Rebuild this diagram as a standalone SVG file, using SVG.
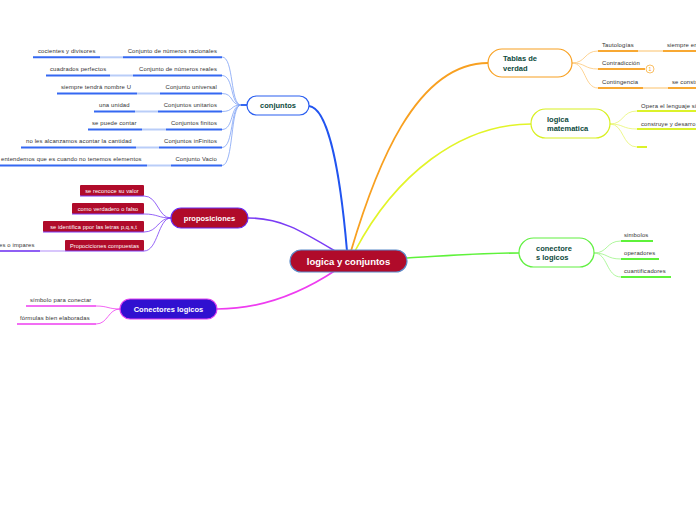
<svg xmlns="http://www.w3.org/2000/svg" width="696" height="520" viewBox="0 0 696 520">
<style>
text{font-family:"Liberation Sans",Arial,sans-serif}
.lbl{font-size:5.9px;fill:#333;letter-spacing:0.15px}
.nt{font-size:7.5px;font-weight:bold;fill:#0d4a3c}
.wt{font-weight:bold;fill:#fff}
.pt{font-size:5.6px;fill:#fff;letter-spacing:0.1px}
.c{fill:none}
.bl{stroke:#3568f2;stroke-width:2}
.bll{stroke:#b9cdf8;stroke-width:2}
.blc{stroke:#7fa2f5;stroke-width:0.8}
.pu{stroke:#7a3cf5}
.mg{stroke:#ee3cf0}
.or{stroke:#f8a832;stroke-width:2}
.orl{stroke:#fde0b4;stroke-width:2}
.ye{stroke:#dcf22a;stroke-width:2}
.gr{stroke:#5ef23a;stroke-width:2}
</style>
<rect width="696" height="520" fill="#fff"/>
<g id="connectors">
<path class="c" d="M309,106 C328,108 340,170 347,251" stroke="#2154f0" stroke-width="2"/>
<path class="c" d="M335,251 C300,230 280,218 248,218" stroke="#7a3cf5" stroke-width="1.6"/>
<path class="c" d="M336,270 C300,294 260,309 217,309" stroke="#ee3cf0" stroke-width="1.6"/>
<path class="c" d="M351,251 C375,170 415,63 488,63" stroke="#f8a020" stroke-width="1.8"/>
<path class="c" d="M355,251 C395,175 460,124 531,124" stroke="#e2f428" stroke-width="1.6"/>
<path class="c" d="M407,258 C440,256 480,253 519,253" stroke="#5ef23a" stroke-width="1.6"/>
<line x1="241" y1="105" x2="247" y2="105" stroke="#3568f2" stroke-width="2"/>
<path class="c blc" d="M241,105 C230,105 234,57 222,57"/>
<path class="c blc" d="M241,105 C230,105 234,75.5 222,75.5"/>
<path class="c blc" d="M241,105 C230,105 234,93.5 222,93.5"/>
<path class="c blc" d="M241,105 C230,105 234,111.5 222,111.5"/>
<path class="c blc" d="M241,105 C230,105 234,129.5 222,129.5"/>
<path class="c blc" d="M241,105 C230,105 234,147.5 222,147.5"/>
<path class="c blc" d="M241,105 C230,105 234,165.5 222,165.5"/>
<path class="c pu" stroke-width="0.8" d="M171,218 C158,218 158,196 144,196"/>
<path class="c pu" stroke-width="0.8" d="M171,218 C158,218 158,214 144,214"/>
<path class="c pu" stroke-width="0.8" d="M171,218 C158,218 158,232 144,232"/>
<path class="c pu" stroke-width="0.8" d="M171,218 C158,218 158,251 144,251"/>
<path class="c mg" stroke-width="0.8" d="M120,309 C108,309 108,306 96,306"/>
<path class="c mg" stroke-width="0.8" d="M120,309 C108,309 108,324 96,324"/>
<path class="c" stroke="#fcc878" stroke-width="0.8" d="M572,63 C586,63 584,51 598,51"/>
<path class="c" stroke="#fcc878" stroke-width="0.8" d="M572,63 C586,63 584,69 598,69"/>
<path class="c" stroke="#fcc878" stroke-width="0.8" d="M572,63 C586,63 584,88 598,88"/>
<path class="c" stroke="#e8f570" stroke-width="0.8" d="M610,124 C624,124 622,111 637,111"/>
<path class="c" stroke="#e8f570" stroke-width="0.8" d="M610,124 C624,124 622,129 637,129"/>
<path class="c" stroke="#e8f570" stroke-width="0.8" d="M610,124 C624,124 622,147 637,147"/>
<path class="c" stroke="#9cf585" stroke-width="0.8" d="M594,253 C608,253 606,241 621,241"/>
<path class="c" stroke="#9cf585" stroke-width="0.8" d="M594,253 C608,253 606,259 621,259"/>
<path class="c" stroke="#9cf585" stroke-width="0.8" d="M594,253 C608,253 606,277 621,277"/>
</g>
<g id="central">
<rect x="290" y="250" width="117" height="22" rx="11" fill="#b00b2a" stroke="#5b8ac8" stroke-width="1.2"/>
<text class="wt" x="348.5" y="264.5" font-size="9.5" text-anchor="middle">logica y conjuntos</text>
</g>
<g id="conjuntos">
<rect x="247" y="96" width="62" height="19" rx="9.5" fill="#fff" stroke="#2b5ff0" stroke-width="1.2"/>
<text class="nt" x="278" y="108" text-anchor="middle">conjuntos</text>
</g>
<g id="conj-children">
<line class="bl" x1="123" y1="57.3" x2="222" y2="57.3"/><line class="bll" x1="100" y1="57.3" x2="123" y2="57.3"/><line class="bl" x1="33" y1="57.3" x2="100" y2="57.3"/>
<text class="lbl" x="217" y="53" text-anchor="end">Conjunto de números racionales</text>
<text class="lbl" x="38" y="53">cocientes y divisores</text>
<line class="bl" x1="133" y1="75.5" x2="222" y2="75.5"/><line class="bll" x1="110" y1="75.5" x2="133" y2="75.5"/><line class="bl" x1="46" y1="75.5" x2="110" y2="75.5"/>
<text class="lbl" x="217" y="71" text-anchor="end">Conjunto de números reales</text>
<text class="lbl" x="50" y="71">cuadrados perfectos</text>
<line class="bl" x1="160" y1="93.5" x2="222" y2="93.5"/><line class="bll" x1="137" y1="93.5" x2="160" y2="93.5"/><line class="bl" x1="57" y1="93.5" x2="137" y2="93.5"/>
<text class="lbl" x="217" y="89" text-anchor="end">Conjunto universal</text>
<text class="lbl" x="61" y="89">siempre tendrá nombre U</text>
<line class="bl" x1="158" y1="111.5" x2="222" y2="111.5"/><line class="bll" x1="135" y1="111.5" x2="158" y2="111.5"/><line class="bl" x1="94" y1="111.5" x2="135" y2="111.5"/>
<text class="lbl" x="217" y="107" text-anchor="end">Conjuntos unitarios</text>
<text class="lbl" x="99" y="107">una unidad</text>
<line class="bl" x1="166" y1="129.5" x2="222" y2="129.5"/><line class="bll" x1="142" y1="129.5" x2="166" y2="129.5"/><line class="bl" x1="88" y1="129.5" x2="142" y2="129.5"/>
<text class="lbl" x="217" y="125" text-anchor="end">Conjuntos finitos</text>
<text class="lbl" x="92" y="125">se puede contar</text>
<line class="bl" x1="159" y1="147.5" x2="222" y2="147.5"/><line class="bll" x1="136" y1="147.5" x2="159" y2="147.5"/><line class="bl" x1="21" y1="147.5" x2="136" y2="147.5"/>
<text class="lbl" x="217" y="143" text-anchor="end">Conjuntos inFinitos</text>
<text class="lbl" x="26" y="143">no les alcanzamos acontar la cantidad</text>
<line class="bl" x1="171" y1="165.5" x2="222" y2="165.5"/><line class="bll" x1="147" y1="165.5" x2="171" y2="165.5"/><line class="bl" x1="0" y1="165.5" x2="147" y2="165.5"/>
<text class="lbl" x="217" y="161" text-anchor="end">Conjunto Vacio</text>
<text class="lbl" x="1" y="161">entendemos que es cuando no tenemos elementos</text>
</g>
<g id="proposiciones">
<rect x="171" y="208" width="77" height="20" rx="10" fill="#b00b2a" stroke="#6a2af0" stroke-width="1.2"/>
<text class="wt" x="209.5" y="221" font-size="7.5" text-anchor="middle">proposiciones</text>
</g>
<g id="prop-children">
<rect x="80" y="185" width="64" height="11" rx="1" fill="#b00b2a"/>
<line class="pu" x1="80" y1="196" x2="144" y2="196" stroke-width="1"/>
<text class="pt" x="112" y="192.5" text-anchor="middle">se reconoce su valor</text>
<rect x="72" y="203" width="72" height="11" rx="1" fill="#b00b2a"/>
<line class="pu" x1="72" y1="214" x2="144" y2="214" stroke-width="1"/>
<text class="pt" x="108" y="210.5" text-anchor="middle">como verdadero o falso</text>
<rect x="43" y="221" width="101" height="11" rx="1" fill="#b00b2a"/>
<line class="pu" x1="43" y1="232" x2="144" y2="232" stroke-width="1"/>
<text class="pt" x="93.5" y="228.5" text-anchor="middle">se identifica ppor las letras p,q,s,t</text>
<rect x="65" y="240" width="79" height="11" rx="1" fill="#b00b2a"/>
<line class="pu" x1="65" y1="251" x2="144" y2="251" stroke-width="1"/>
<text class="pt" x="104.5" y="247.5" text-anchor="middle">Propociciones compuestas</text>
<line x1="40" y1="251" x2="65" y2="251" stroke="#cbb3fb" stroke-width="1.5"/>
<line x1="0" y1="251" x2="40" y2="251" stroke="#6a2af0" stroke-width="1.5"/>
<text class="lbl" x="-1" y="247">es o impares</text>
</g>
<g id="conectores-logicos">
<rect x="120" y="299" width="97" height="20" rx="10" fill="#3010d0" stroke="#e040f0" stroke-width="1.2"/>
<text class="wt" x="168.5" y="312" font-size="7.5" text-anchor="middle">Conectores logicos</text>
<line x1="26" y1="306" x2="96" y2="306" stroke="#ee3cf0" stroke-width="1.6"/>
<text class="lbl" x="30" y="302">símbolo para conectar</text>
<line x1="17" y1="324" x2="96" y2="324" stroke="#ee3cf0" stroke-width="1.6"/>
<text class="lbl" x="20" y="320">fórmulas bien elaboradas</text>
</g>
<g id="tablas">
<rect x="488" y="49" width="84" height="28" rx="14" fill="#fff" stroke="#f8a020" stroke-width="1.2"/>
<text class="nt" x="503" y="61">Tablas de</text>
<text class="nt" x="503" y="70.5">verdad</text>
<line class="or" x1="598" y1="51" x2="638" y2="51"/><line class="orl" x1="638" y1="51" x2="663" y2="51"/><line class="or" x1="663" y1="51" x2="696" y2="51"/>
<text class="lbl" x="602" y="47">Tautologías</text>
<text class="lbl" x="667" y="47">siempre en</text>
<line class="or" x1="598" y1="69" x2="645" y2="69"/>
<text class="lbl" x="602" y="65">Contradicción</text>
<rect x="646" y="65" width="8" height="8" rx="4" fill="#fff" stroke="#f8b040" stroke-width="0.8"/>
<text x="650" y="71" font-size="5" fill="#f8a020" text-anchor="middle">1</text>
<line class="or" x1="598" y1="88" x2="643" y2="88"/><line class="orl" x1="643" y1="88" x2="668" y2="88"/><line class="or" x1="668" y1="88" x2="696" y2="88"/>
<text class="lbl" x="602" y="84">Contingencia</text>
<text class="lbl" x="672" y="84">se constr</text>
</g>
<g id="logica-matematica">
<rect x="531" y="109" width="79" height="29" rx="14.5" fill="#fff" stroke="#d8f020" stroke-width="1.2"/>
<text class="nt" x="547" y="121.5">logica</text>
<text class="nt" x="547" y="130.5">matematica</text>
<line class="ye" x1="637" y1="111" x2="696" y2="111"/>
<text class="lbl" x="641" y="107.5">Opera el lenguaje si</text>
<line class="ye" x1="637" y1="129" x2="696" y2="129"/>
<text class="lbl" x="641" y="125.5">construye y desarro</text>
<line class="ye" x1="637" y1="147" x2="647" y2="147"/>
</g>
<g id="conectores">
<rect x="519" y="238" width="75" height="29" rx="14.5" fill="#fff" stroke="#60f040" stroke-width="1.2"/>
<text class="nt" x="536" y="250.5">conectore</text>
<text class="nt" x="536" y="260">s logicos</text>
<line class="gr" x1="621" y1="241" x2="653" y2="241"/>
<text class="lbl" x="624" y="237">simbolos</text>
<line class="gr" x1="621" y1="259" x2="659" y2="259"/>
<text class="lbl" x="624" y="255">operadores</text>
<line class="gr" x1="621" y1="277" x2="671" y2="277"/>
<text class="lbl" x="624" y="273">cuantificadores</text>
</g>
</svg>
